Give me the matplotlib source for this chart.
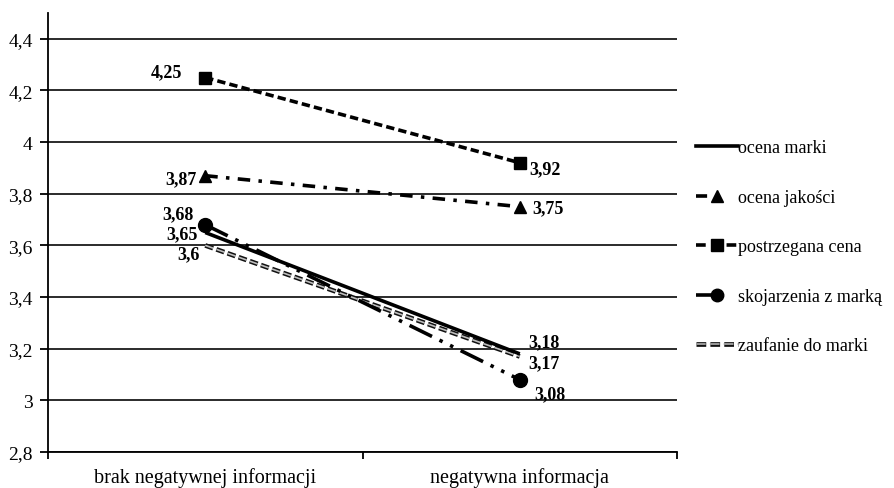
import matplotlib
matplotlib.use("Agg")
import matplotlib.pyplot as plt
from matplotlib.lines import Line2D
from matplotlib.legend_handler import HandlerTuple

plt.rcParams["font.family"] = ["Liberation Serif", "DejaVu Serif"]
plt.rcParams["lines.scale_dashes"] = False

categories = ["brak negatywnej informacji", "negatywna informacja"]
series_names = ["ocena marki", "ocena jakości", "postrzegana cena",
                "skojarzenia z marką", "zaufanie do marki"]
ocena_marki = [3.65, 3.18]
ocena_jakosci = [3.87, 3.75]
postrzegana_cena = [4.25, 3.92]
skojarzenia = [3.68, 3.08]
zaufanie = [3.60, 3.17]
y_ticks = [2.8, 3.0, 3.2, 3.4, 3.6, 3.8, 4.0, 4.2, 4.4]

def fmt(v):
    s = f"{v:.2f}".rstrip("0").rstrip(".")
    return s.replace(".", ",")

W, H = 894, 489
fig = plt.figure(figsize=(W / 100, H / 100), dpi=100)
ax = fig.add_axes([48 / W, (H - 453) / H, (677 - 48) / W, (453 - 14) / H])

x = list(range(len(categories)))

# gridlines
for t in y_ticks:
    ax.axhline(t, color="#1a1a1a", lw=1.3, zorder=1)

lw = 2.6
h_marki, = ax.plot(x, ocena_marki, color="black", lw=lw, solid_capstyle="butt", zorder=3)
h_jak, = ax.plot(x, ocena_jakosci, color="black", lw=lw, dashes=(9, 6, 2.5, 6),
                 marker="^", markersize=9, zorder=3)
h_cena, = ax.plot(x, postrzegana_cena, color="black", lw=lw, dashes=(6, 3),
                  marker="s", markersize=9, zorder=3)
h_skoj, = ax.plot(x, skojarzenia, color="black", lw=lw,
                  dashes=(18, 6, 2.5, 6, 2.5, 6), marker="o", markersize=10, zorder=3)
h_zauf_a, = ax.plot(x, zaufanie, color="#111111", lw=3.4, dashes=(6, 2.5), zorder=2)
h_zauf_b, = ax.plot(x, zaufanie, color="#bdbdbd", lw=1.2, dashes=(6, 2.5), zorder=2)

# value labels (offsets in pixels)
labels = [
    (0, postrzegana_cena[0], -23, 6, "right"),
    (0, ocena_jakosci[0], -9, -3, "right"),
    (0, skojarzenia[0], -12, 11, "right"),
    (0, ocena_marki[0], -8, -1, "right"),
    (0, zaufanie[0], -6, -8, "right"),
    (1, postrzegana_cena[1], 10, -6, "left"),
    (1, ocena_jakosci[1], 13, -1, "left"),
    (1, ocena_marki[1], 9, 12, "left"),
    (1, zaufanie[1], 9, -6, "left"),
    (1, skojarzenia[1], 15, -14, "left"),
]
for xi, v, dx, dy, ha in labels:
    ax.annotate(fmt(v), (xi, v), xytext=(dx, dy), textcoords="offset pixels",
                ha=ha, va="center", fontsize=13, fontweight="bold", zorder=5)

ax.set_xlim(-0.5, 1.5)
ax.set_ylim(2.8, 4.5)
ax.set_yticks(y_ticks)
ax.set_yticklabels([fmt(t) for t in y_ticks], fontsize=14)
ax.set_xticks(x)
ax.set_xticklabels(categories, fontsize=14.5)
ax.set_xticks([-0.5, 0.5, 1.5], minor=True)
ax.tick_params(axis="x", which="major", length=0, pad=11)
ax.tick_params(axis="x", which="minor", length=5, width=1.3, direction="out")
ax.tick_params(axis="y", length=6, width=1.3, direction="out", pad=5)

for s in ["top", "right"]:
    ax.spines[s].set_visible(False)
ax.spines["left"].set_linewidth(1.3)
ax.spines["bottom"].set_linewidth(1.3)

# legend proxies with short patterns
lg_marki = Line2D([], [], color="black", lw=2.6)
lg_jak = Line2D([], [], color="black", lw=2.6, dashes=(8, 40), marker="^", markersize=8)
lg_cena = Line2D([], [], color="black", lw=2.6, dashes=(7, 4), marker="s", markersize=8)
lg_skoj = Line2D([], [], color="black", lw=2.6, dashes=(16, 40), marker="o", markersize=9)
lg_zauf_a = Line2D([], [], color="#111111", lw=3.4, dashes=(7, 3))
lg_zauf_b = Line2D([], [], color="#9a9a9a", lw=1.4, dashes=(7, 3))

handles = [lg_marki, lg_jak, lg_cena, lg_skoj, (lg_zauf_a, lg_zauf_b)]
leg = fig.legend(handles, series_names, loc="center left",
                 bbox_to_anchor=(696 / W, 1 - 248 / H), frameon=False,
                 fontsize=13, handlelength=2.3, handletextpad=0.05,
                 labelspacing=1.8, borderpad=0, borderaxespad=0,
                 handler_map={tuple: HandlerTuple(ndivide=1, pad=0)})

fig.savefig("out.png", dpi=100)
